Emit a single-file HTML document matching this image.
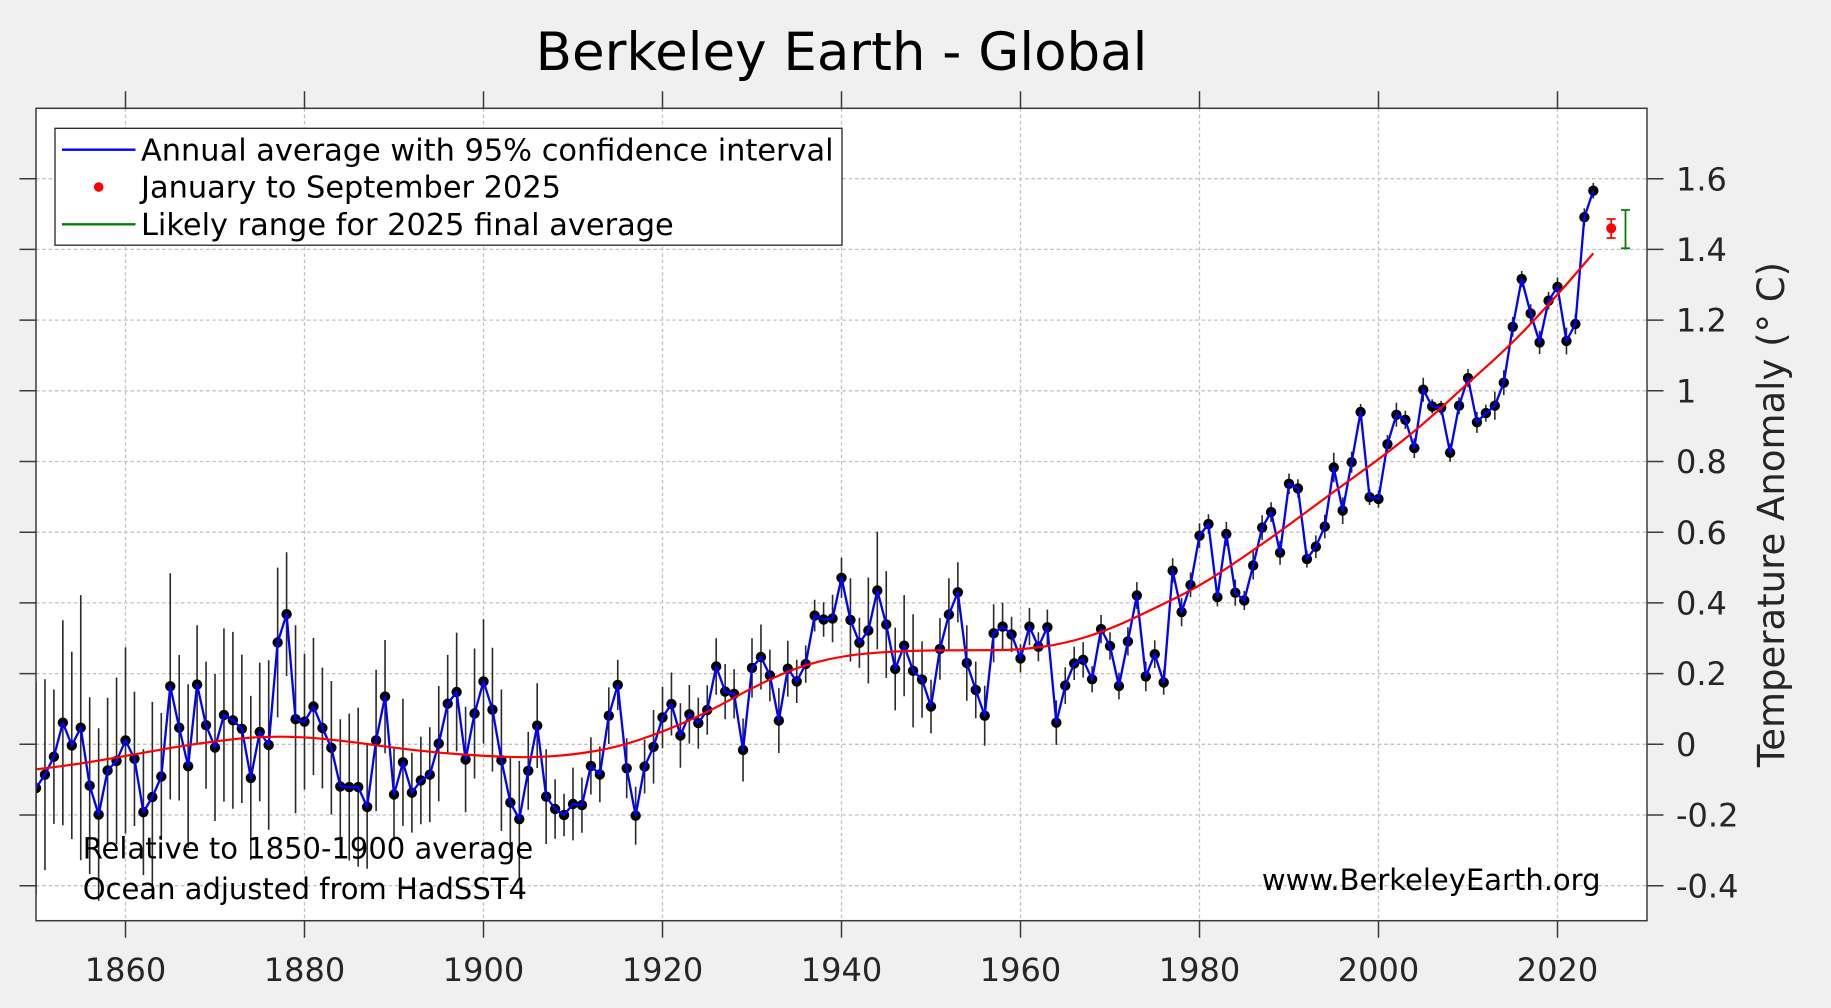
<!DOCTYPE html>
<html><head><meta charset="utf-8"><style>
html,body{margin:0;padding:0;background:#f0f0f0;}
svg{display:block}
text{font-family:"DejaVu Sans","Liberation Sans",sans-serif;}
</style></head><body>
<svg xmlns="http://www.w3.org/2000/svg" width="1831" height="1008" viewBox="0 0 1831 1008">
<defs>
<clipPath id="pc"><rect x="36" y="108.3" width="1611" height="812.4"/></clipPath>
<marker id="d" markerWidth="12" markerHeight="12" refX="6" refY="6" markerUnits="userSpaceOnUse" overflow="visible"><circle cx="6" cy="6" r="5.2" fill="#000"/></marker>
</defs>
<rect x="0" y="0" width="1831" height="1008" fill="#f0f0f0"/>
<rect x="36" y="108.3" width="1611" height="812.4" fill="#fff"/>
<!-- grid -->
<g stroke="#c2c2c2" stroke-width="1.3" stroke-dasharray="3.5 2.8" fill="none">
<path d="M125.5 108.3V920.7M304.5 108.3V920.7M483.5 108.3V920.7M662.5 108.3V920.7M841.5 108.3V920.7M1020.5 108.3V920.7M1199.5 108.3V920.7M1378.5 108.3V920.7M1557.5 108.3V920.7"/>
<path d="M36 885.7H1647M36 815H1647M36 744.3H1647M36 673.6H1647M36 602.9H1647M36 532.2H1647M36 461.5H1647M36 390.8H1647M36 320.1H1647M36 249.4H1647M36 178.7H1647"/>
</g>
<g clip-path="url(#pc)">
<!-- error bars -->
<path fill="none" stroke="#2a2a2a" stroke-width="1.6" d="M36 682V894.2M44.95 679.3V870.1M53.9 689.5V823.9M62.85 620.2V825.2M71.8 651.7V839.1M80.75 595.1V860.3M89.7 697.3V874.1M98.65 728.3V900.9M107.6 697.7V843.3M116.55 677.5V844.3M125.5 647.4V833.4M134.45 691.6V826M143.4 749.3V875.1M152.35 701.9V892.1M161.3 712.9V840.1M170.25 573.2V799.4M179.2 654.9V800.5M188.15 684.2V848.2M197.1 625.2V744M206.05 661.6V788.8M215 674V821M223.95 628.4V801.6M232.9 631.9V808.7M241.85 654.6V803M250.8 695.9V859.9M259.75 662.6V801.2M268.7 660.2V829.8M277.65 567.6V717.4M286.6 552.3V676.1M295.55 625.2V813.2M304.5 653.8V789.6M313.45 637.9V775.1M322.4 667.6V788.4M331.35 681V814.6M340.3 719.2V853.6M349.25 713.6V860.6M358.2 707.6V866.6M367.15 745V868.8M376.1 669.7V811.1M385.05 640V753.2M394 748.5V840.5M402.95 698.7V825.9M411.9 752.8V832.6M420.85 736.6V824.2M429.8 727.3V822.1M438.75 686V801.2M447.7 654.9V752.5M456.65 632.6V751.4M465.6 706.8V812.2M474.55 648.5V778.5M483.5 619.2V743.6M492.45 647.8V771.6M501.4 689.5V830.9M510.35 756.6V848.6M519.3 760.9V877.5M528.25 731.9V809.7M537.2 683.2V768M546.15 749.2V844M555.1 779.3V838.7M564.05 793.8V836.2M573 767.6V840.4M581.95 777.5V832.7M590.9 737.3V794.5M599.85 746.5V802.3M608.8 687.4V744M617.75 659.8V710M626.7 738.3V798.3M635.65 786.7V844.7M644.6 739.7V793.5M653.55 710V783.6M662.5 686.6V748.2M671.45 672.5V735.5M680.4 703.3V767.7M689.35 685V743.6M698.3 697.6V748.6M707.25 685.3V734.7M716.2 638.2V694.8M725.15 664V719.2M734.1 669.1V718.5M743.05 718.5V781.5M752 638.2V697.6M760.95 624.5V689.5M769.9 649.6V701.2M778.85 688.1V753.1M787.8 640.8V696.6M796.75 659.8V703M805.7 645.4V682.8M814.65 599.7V631.5M823.6 602.2V636.8M832.55 594.8V642.2M841.5 557.7V597.9M850.45 578.2V661.6M859.4 617.7V667.9M868.35 577.5V683.5M877.3 531.8V649.2M886.25 571.1V677.9M895.2 627.6V710.4M904.15 595.1V696.3M913.1 614.2V727.4M922.05 641.4V717.8M931 679.6V733.4M939.95 618.1V679.7M948.9 578.2V651M957.85 562.3V622.3M966.8 625.2V700.8M975.75 661.6V718.2M984.7 685.7V745.7M993.65 604.3V662.3M1002.6 602.6V650.6M1011.55 616.7V652.1M1020.5 644.3V672.5M1029.45 607.9V645.3M1038.4 632.2V661.2M1047.35 609.6V645M1056.3 700.4V745M1065.25 667.2V704M1074.2 646.8V680M1083.15 642.1V677.5M1092.1 666.2V692.4M1101.05 615V643.2M1110 632.2V659.8M1118.95 672.6V699.4M1127.9 627.3V655.5M1136.85 582.1V608.9M1145.8 661.6V691.2M1154.75 640.4V668M1163.7 670V694.8M1172.65 558.3V583.1M1181.6 598V626.2M1190.55 572.5V597.3M1199.5 523.3V548.1M1208.45 514.2V534M1217.4 588V606.4M1226.35 522V546M1235.3 579.6V605.8M1244.25 590.9V609.9M1253.2 551.3V579.5M1262.15 515.2V540M1271.1 502.2V522M1280.05 540.7V564.7M1289 473.5V494.1M1297.95 479.2V497.6M1306.9 550.6V567.6M1315.85 535.4V558M1324.8 514.8V538.2M1333.75 452.7V482.3M1342.7 497.2V524M1351.65 451.6V472.8M1360.6 403.9V420.1M1369.55 489.4V505M1378.5 490.2V507.8M1387.45 435V453.4M1396.4 402.8V426.8M1405.35 410.6V429M1414.3 438.2V458M1423.25 377.7V401.7M1432.2 399.3V413.5M1441.15 400.7V414.9M1450.1 443.5V461.9M1459.05 397.2V414.2M1468 368.9V387.3M1476.95 411.7V432.9M1485.9 404.6V421.6M1494.85 391.6V419.8M1503.8 370.3V395.1M1512.75 316.9V336.7M1521.7 271V287.2M1530.65 304.2V322.6M1539.6 330.7V354.1M1548.55 291.9V309.5M1557.5 277.4V296.4M1566.45 327.6V354.4M1575.4 313.7V334.3M1584.35 208.4V226M1593.3 182.9V198.5"/>
<!-- dots -->
<polyline fill="none" stroke="none" marker-start="url(#d)" marker-mid="url(#d)" marker-end="url(#d)" points="36,788.1 44.95,774.7 53.9,756.7 62.85,722.7 71.8,745.4 80.75,727.7 89.7,785.7 98.65,814.6 107.6,770.5 116.55,760.9 125.5,740.4 134.45,758.8 143.4,812.2 152.35,797 161.3,776.5 170.25,686.3 179.2,727.7 188.15,766.2 197.1,684.6 206.05,725.2 215,747.5 223.95,715 232.9,720.3 241.85,728.8 250.8,777.9 259.75,731.9 268.7,745 277.65,642.5 286.6,614.2 295.55,719.2 304.5,721.7 313.45,706.5 322.4,728 331.35,747.8 340.3,786.4 349.25,787.1 358.2,787.1 367.15,806.9 376.1,740.4 385.05,696.6 394,794.5 402.95,762.3 411.9,792.7 420.85,780.4 429.8,774.7 438.75,743.6 447.7,703.7 456.65,692 465.6,759.5 474.55,713.5 483.5,681.4 492.45,709.7 501.4,760.2 510.35,802.6 519.3,819.2 528.25,770.8 537.2,725.6 546.15,796.6 555.1,809 564.05,815 573,804 581.95,805.1 590.9,765.9 599.85,774.4 608.8,715.7 617.75,684.9 626.7,768.3 635.65,815.7 644.6,766.6 653.55,746.8 662.5,717.4 671.45,704 680.4,735.5 689.35,714.3 698.3,723.1 707.25,710 716.2,666.5 725.15,691.6 734.1,693.8 743.05,750 752,667.9 760.95,657 769.9,675.4 778.85,720.6 787.8,668.7 796.75,681.4 805.7,664.1 814.65,615.6 823.6,619.5 832.55,618.5 841.5,577.8 850.45,619.9 859.4,642.8 868.35,630.5 877.3,590.5 886.25,624.5 895.2,669 904.15,645.7 913.1,670.8 922.05,679.6 931,706.5 939.95,648.9 948.9,614.6 957.85,592.3 966.8,663 975.75,689.9 984.7,715.7 993.65,633.3 1002.6,626.6 1011.55,634.4 1020.5,658.4 1029.45,626.6 1038.4,646.7 1047.35,627.3 1056.3,722.7 1065.25,685.6 1074.2,663.4 1083.15,659.8 1092.1,679.3 1101.05,629.1 1110,646 1118.95,686 1127.9,641.4 1136.85,595.5 1145.8,676.4 1154.75,654.2 1163.7,682.4 1172.65,570.7 1181.6,612.1 1190.55,584.9 1199.5,535.7 1208.45,524.1 1217.4,597.2 1226.35,534 1235.3,592.7 1244.25,600.4 1253.2,565.4 1262.15,527.6 1271.1,512.1 1280.05,552.7 1289,483.8 1297.95,488.4 1306.9,559.1 1315.85,546.7 1324.8,526.5 1333.75,467.5 1342.7,510.6 1351.65,462.2 1360.6,412 1369.55,497.2 1378.5,499 1387.45,444.2 1396.4,414.8 1405.35,419.8 1414.3,448.1 1423.25,389.7 1432.2,406.4 1441.15,407.8 1450.1,452.7 1459.05,405.7 1468,378.1 1476.95,422.3 1485.9,413.1 1494.85,405.7 1503.8,382.7 1512.75,326.8 1521.7,279.1 1530.65,313.4 1539.6,342.4 1548.55,300.7 1557.5,286.9 1566.45,341 1575.4,324 1584.35,217.2 1593.3,190.7"/>
<!-- blue line -->
<polyline fill="none" stroke="#0000ff" stroke-width="2.3" stroke-linejoin="round" points="36,788.1 44.95,774.7 53.9,756.7 62.85,722.7 71.8,745.4 80.75,727.7 89.7,785.7 98.65,814.6 107.6,770.5 116.55,760.9 125.5,740.4 134.45,758.8 143.4,812.2 152.35,797 161.3,776.5 170.25,686.3 179.2,727.7 188.15,766.2 197.1,684.6 206.05,725.2 215,747.5 223.95,715 232.9,720.3 241.85,728.8 250.8,777.9 259.75,731.9 268.7,745 277.65,642.5 286.6,614.2 295.55,719.2 304.5,721.7 313.45,706.5 322.4,728 331.35,747.8 340.3,786.4 349.25,787.1 358.2,787.1 367.15,806.9 376.1,740.4 385.05,696.6 394,794.5 402.95,762.3 411.9,792.7 420.85,780.4 429.8,774.7 438.75,743.6 447.7,703.7 456.65,692 465.6,759.5 474.55,713.5 483.5,681.4 492.45,709.7 501.4,760.2 510.35,802.6 519.3,819.2 528.25,770.8 537.2,725.6 546.15,796.6 555.1,809 564.05,815 573,804 581.95,805.1 590.9,765.9 599.85,774.4 608.8,715.7 617.75,684.9 626.7,768.3 635.65,815.7 644.6,766.6 653.55,746.8 662.5,717.4 671.45,704 680.4,735.5 689.35,714.3 698.3,723.1 707.25,710 716.2,666.5 725.15,691.6 734.1,693.8 743.05,750 752,667.9 760.95,657 769.9,675.4 778.85,720.6 787.8,668.7 796.75,681.4 805.7,664.1 814.65,615.6 823.6,619.5 832.55,618.5 841.5,577.8 850.45,619.9 859.4,642.8 868.35,630.5 877.3,590.5 886.25,624.5 895.2,669 904.15,645.7 913.1,670.8 922.05,679.6 931,706.5 939.95,648.9 948.9,614.6 957.85,592.3 966.8,663 975.75,689.9 984.7,715.7 993.65,633.3 1002.6,626.6 1011.55,634.4 1020.5,658.4 1029.45,626.6 1038.4,646.7 1047.35,627.3 1056.3,722.7 1065.25,685.6 1074.2,663.4 1083.15,659.8 1092.1,679.3 1101.05,629.1 1110,646 1118.95,686 1127.9,641.4 1136.85,595.5 1145.8,676.4 1154.75,654.2 1163.7,682.4 1172.65,570.7 1181.6,612.1 1190.55,584.9 1199.5,535.7 1208.45,524.1 1217.4,597.2 1226.35,534 1235.3,592.7 1244.25,600.4 1253.2,565.4 1262.15,527.6 1271.1,512.1 1280.05,552.7 1289,483.8 1297.95,488.4 1306.9,559.1 1315.85,546.7 1324.8,526.5 1333.75,467.5 1342.7,510.6 1351.65,462.2 1360.6,412 1369.55,497.2 1378.5,499 1387.45,444.2 1396.4,414.8 1405.35,419.8 1414.3,448.1 1423.25,389.7 1432.2,406.4 1441.15,407.8 1450.1,452.7 1459.05,405.7 1468,378.1 1476.95,422.3 1485.9,413.1 1494.85,405.7 1503.8,382.7 1512.75,326.8 1521.7,279.1 1530.65,313.4 1539.6,342.4 1548.55,300.7 1557.5,286.9 1566.45,341 1575.4,324 1584.35,217.2 1593.3,190.7"/>
<!-- red trend (smooth) -->
<path fill="none" stroke="#ff0000" stroke-width="2.2" stroke-linejoin="round" d="M36,769.4 L58.375,766.55 Q80.75,763.7 103.125,759.85 Q125.5,756 147.875,751.9 Q170.25,747.8 192.625,744.45 Q215,741.1 237.375,738.8 Q259.75,736.5 282.125,736.7 Q304.5,736.9 326.875,739.2 Q349.25,741.5 371.625,744.65 Q394,747.8 416.375,750.3 Q438.75,752.8 461.125,754.4 Q483.5,756 505.875,756.85 Q528.25,757.7 550.625,756.3 Q573,754.9 595.375,751 Q617.75,747.1 640.125,739.5 Q662.5,731.9 684.875,722.2 Q707.25,712.5 729.625,700.1 Q752,687.7 774.375,677.45 Q796.75,667.2 819.125,661.55 Q841.5,655.9 863.875,653.8 Q886.25,651.7 908.625,651 Q931,650.3 953.375,650.3 Q975.75,650.3 998.125,650.1 Q1020.5,649.9 1042.875,646.75 Q1065.25,643.6 1087.625,636.5 Q1110,629.4 1132.375,618.8 Q1154.75,608.2 1177.125,597.25 Q1199.5,586.3 1221.875,571.45 Q1244.25,556.6 1266.625,540.85 Q1289,525.1 1311.375,508.3 Q1333.75,491.5 1356.125,475.6 Q1378.5,459.7 1400.875,442.05 Q1423.25,424.4 1445.625,403.7 Q1468,383 1490.375,363.05 Q1512.75,343.1 1535.125,319.05 Q1557.5,295 1575.4,274.15 L1593.3,253.3"/>
<!-- 2025 -->
<path fill="none" stroke="#ff0000" stroke-width="1.8" d="M1611.2 219V238M1606.7 219H1615.7M1606.7 238H1615.7"/>
<circle cx="1611.2" cy="228.3" r="5" fill="#ff0000"/>
<path fill="none" stroke="#008000" stroke-width="1.8" d="M1625.5 210V248.3M1621 210H1630M1621 248.3H1630"/>
</g>
<!-- axes box -->
<rect x="36" y="108.3" width="1611" height="812.4" fill="none" stroke="#3a3a3a" stroke-width="1.5"/>
<!-- ticks -->
<g stroke="#3a3a3a" stroke-width="1.5" fill="none">
<path d="M125.5 920.7V937.7M304.5 920.7V937.7M483.5 920.7V937.7M662.5 920.7V937.7M841.5 920.7V937.7M1020.5 920.7V937.7M1199.5 920.7V937.7M1378.5 920.7V937.7M1557.5 920.7V937.7"/>
<path d="M125.5 91.3V108.3M304.5 91.3V108.3M483.5 91.3V108.3M662.5 91.3V108.3M841.5 91.3V108.3M1020.5 91.3V108.3M1199.5 91.3V108.3M1378.5 91.3V108.3M1557.5 91.3V108.3"/>
<path d="M19.5 885.7H36M19.5 815H36M19.5 744.3H36M19.5 673.6H36M19.5 602.9H36M19.5 532.2H36M19.5 461.5H36M19.5 390.8H36M19.5 320.1H36M19.5 249.4H36M19.5 178.7H36"/>
<path d="M1647 885.7H1663.5M1647 815H1663.5M1647 744.3H1663.5M1647 673.6H1663.5M1647 602.9H1663.5M1647 532.2H1663.5M1647 461.5H1663.5M1647 390.8H1663.5M1647 320.1H1663.5M1647 249.4H1663.5M1647 178.7H1663.5"/>
</g>
<!-- x tick labels -->
<g font-size="32" fill="#262626" text-anchor="middle">
<text x="125.5" y="981">1860</text>
<text x="304.5" y="981">1880</text>
<text x="483.5" y="981">1900</text>
<text x="662.5" y="981">1920</text>
<text x="841.5" y="981">1940</text>
<text x="1020.5" y="981">1960</text>
<text x="1199.5" y="981">1980</text>
<text x="1378.5" y="981">2000</text>
<text x="1557.5" y="981">2020</text>
</g>
<!-- y tick labels -->
<g font-size="32" fill="#262626">
<text x="1676" y="897.3">-0.4</text>
<text x="1676" y="826.6">-0.2</text>
<text x="1676" y="755.9">0</text>
<text x="1676" y="685.2">0.2</text>
<text x="1676" y="614.5">0.4</text>
<text x="1676" y="543.8">0.6</text>
<text x="1676" y="473.1">0.8</text>
<text x="1676" y="402.4">1</text>
<text x="1676" y="331.7">1.2</text>
<text x="1676" y="261">1.4</text>
<text x="1676" y="190.3">1.6</text>
</g>
<!-- y axis label -->
<text transform="translate(1784,514.5) rotate(-90)" font-size="37" fill="#262626" text-anchor="middle">Temperature Anomaly (° C)</text>
<!-- title -->
<text x="841.5" y="70" font-size="53" fill="#000" text-anchor="middle">Berkeley Earth - Global</text>
<!-- legend -->
<rect x="55" y="128.3" width="787" height="116.9" fill="#fff" stroke="#262626" stroke-width="1.3"/>
<path d="M62 149.7H135.5" stroke="#0000ff" stroke-width="2.3"/>
<circle cx="98.7" cy="187" r="4.8" fill="#ff0000"/>
<path d="M62 224.3H135.5" stroke="#008000" stroke-width="2.3"/>
<g font-size="30.4" fill="#000">
<text x="141" y="160.3">Annual average with 95% confidence interval</text>
<text x="141" y="197.6">January to September 2025</text>
<text x="141" y="234.9">Likely range for 2025 final average</text>
</g>
<!-- annotations -->
<g font-size="29" fill="#000">
<text x="82.7" y="858.3">Relative to 1850-1900 average</text>
<text x="82.7" y="899">Ocean adjusted from HadSST4</text>
<text x="1600.5" y="890" text-anchor="end">www.BerkeleyEarth.org</text>
</g>
</svg>
</body></html>
